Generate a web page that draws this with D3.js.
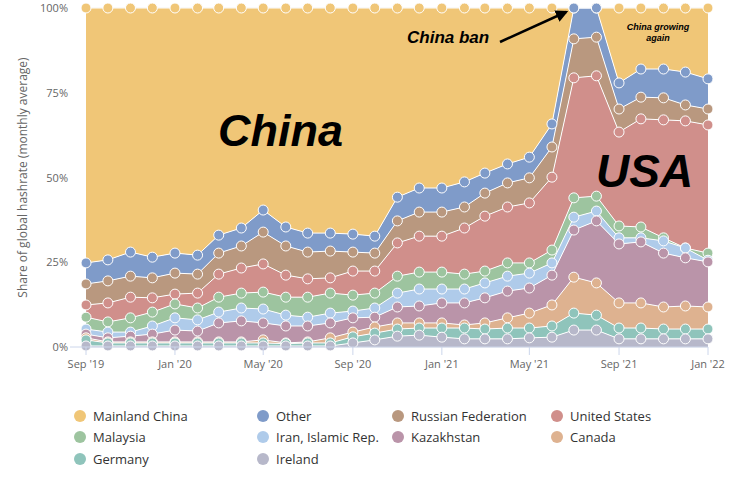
<!DOCTYPE html>
<html>
<head>
<meta charset="utf-8">
<script src="https://cdn.jsdelivr.net/npm/d3@7"></script>
<style>
  body { margin: 0; background: #fff; font-family: "Open Sans", sans-serif; }
</style>
</head>
<body>
<svg id="chart"></svg>
<script>
// months from Sep 2019 to Jan 2022
const months = d3.range(29).map(i => new Date(2019, 8 + i, 1));

// layers bottom to top; values are the cumulative top of each layer (% share)
const layers = ["Ireland", "Germany", "Canada", "Kazakhstan", "Iran, Islamic Rep.", "Malaysia",
                "United States", "Russian Federation", "Other", "Mainland China"];
const colours = ["#b7b8ca", "#8fc4bb", "#deb290", "#ba94a9", "#afcbea", "#9dc49f",
                 "#d08f8b", "#b9987f", "#7f9bc9", "#f0c677"];

const irelandTop   = [0.3,0.3,0.3,0.3,0.3,0.3,0.3,0.3,0.3,0.3,0.3,0.3,1.2,2.1,3.2,3.5,2.9,2.4,2.4,2.4,2.7,2.9,5.0,5.0,2.4,2.4,2.4,2.4,2.4];
const germanyTop   = [2.1,1.2,1.2,1.2,1.2,1.2,1.2,1.2,1.2,1.0,1.2,1.2,3.0,4.1,5.3,5.6,5.6,5.6,5.3,5.6,5.6,6.2,10.0,9.4,5.6,5.6,5.3,5.3,5.3];
const canadaTop    = [2.7,1.5,1.5,1.5,1.5,1.5,1.5,1.5,2.1,1.2,1.5,2.7,4.4,5.9,7.1,7.1,7.1,6.5,7.1,8.6,10.0,12.4,20.6,18.9,13.0,13.0,11.8,12.1,11.8];
const kazakhTop    = [3.8,2.7,3.2,3.8,5.0,4.7,7.1,7.7,7.1,6.2,6.2,7.1,8.6,8.8,11.8,12.1,13.0,13.0,14.5,16.5,17.4,21.2,34.5,37.2,30.4,31.0,27.7,26.3,25.1];
const iranTop      = [5.3,4.4,4.4,6.2,8.6,8.0,10.3,11.5,11.2,9.4,8.8,10.0,10.6,11.5,15.9,17.1,17.1,17.1,18.9,20.9,21.8,24.8,38.3,40.1,32.2,32.2,31.3,29.2,25.6];
const malaysiaTop  = [8.8,7.4,8.6,10.3,12.7,11.5,14.7,15.9,16.2,14.7,14.7,15.9,15.3,15.9,20.9,22.1,22.1,21.5,22.4,24.8,24.8,28.6,44.0,44.5,35.7,35.4,32.2,29.2,27.7];
const usTop        = [12.4,13.0,14.7,14.5,15.6,15.9,21.5,23.3,24.5,21.2,20.1,20.4,22.4,22.4,30.7,32.7,32.7,35.1,38.6,41.3,42.5,50.1,79.4,80.0,63.4,67.3,67.0,66.7,65.5];
const russiaTop    = [18.6,19.5,20.9,20.4,21.8,21.5,27.7,29.8,33.9,29.8,28.0,28.3,28.0,27.7,37.2,39.8,39.8,41.3,45.4,48.4,49.9,59.0,90.9,91.4,70.2,73.7,73.5,71.4,70.2];
const otherTop     = [24.8,25.7,28.0,26.5,27.7,27.1,33.0,35.1,40.4,35.4,33.6,33.6,33.3,32.7,44.2,46.9,46.9,48.7,51.3,54.0,56.0,65.8,100,100,77.9,82.0,82.0,81.1,79.1];
const chinaTop     = months.map(() => 100);

const tops = [irelandTop, germanyTop, canadaTop, kazakhTop, iranTop, malaysiaTop, usTop, russiaTop, otherTop, chinaTop];

const xTickMonths = [0, 4, 8, 12, 16, 20, 24, 28];
const xTickLabels = ["Sep '19", "Jan '20", "May '20", "Sep '20", "Jan '21", "May '21", "Sep '21", "Jan '22"];
const yTicks = [0, 25, 50, 75, 100];

// legend order as in the reference
const legendOrder = ["Mainland China", "Other", "Russian Federation", "United States",
                     "Malaysia", "Iran, Islamic Rep.", "Kazakhstan", "Canada",
                     "Germany", "Ireland"];

const W = 736, H = 484;
const margin = { top: 8, right: 28, bottom: 137, left: 86 };
const width = W - margin.left - margin.right;
const height = H - margin.top - margin.bottom;

const svg = d3.select("#chart").attr("width", W).attr("height", H);
const chart = svg.append("g").attr("transform", `translate(${margin.left},${margin.top})`);

const x = d3.scaleTime().domain([months[0], months[28]]).range([0, width]);
const y = d3.scaleLinear().domain([0, 100]).range([height, 0]);

// gridlines + y labels
chart.selectAll(".grid").data(yTicks).enter().append("line")
  .attr("x1", 0).attr("x2", width)
  .attr("y1", d => y(d)).attr("y2", d => y(d))
  .attr("stroke", "#e6e6e6");
chart.selectAll(".ylab").data(yTicks).enter().append("text")
  .attr("x", -18).attr("y", d => y(d) + 4)
  .attr("text-anchor", "end").attr("font-size", 11).attr("fill", "#666")
  .text(d => d + "%");

svg.append("text")
  .attr("transform", `translate(27,${margin.top + height / 2}) rotate(-90)`)
  .attr("text-anchor", "middle").attr("font-size", 12).attr("fill", "#666")
  .text("Share of global hashrate (monthly average)");

// areas
layers.forEach((name, k) => {
  const top = tops[k];
  const bottom = k === 0 ? months.map(() => 0) : tops[k - 1];
  const area = d3.area()
    .x((d, i) => x(months[i]))
    .y0((d, i) => y(bottom[i]))
    .y1((d, i) => y(top[i]));
  chart.append("path").datum(top)
    .attr("d", area).attr("fill", colours[k]).attr("stroke", "none");
});
layers.forEach((name, k) => {
  const line = d3.line().x((d, i) => x(months[i])).y(d => y(d));
  chart.append("path").datum(tops[k])
    .attr("d", line).attr("fill", "none").attr("stroke", "#fff").attr("stroke-width", 1);
});
// markers: top layer first so lower layers' points sit on top where they touch
layers.slice().reverse().forEach(name => {
  const k = layers.indexOf(name);
  chart.selectAll(null).data(tops[k]).enter().append("circle")
    .attr("cx", (d, i) => x(months[i])).attr("cy", d => y(d))
    .attr("r", 5).attr("fill", colours[k]).attr("stroke", "#fff").attr("stroke-width", 1);
});

// x axis
chart.append("line").attr("x1", -16).attr("x2", width)
  .attr("y1", height).attr("y2", height).attr("stroke", "#ccd6eb");
const xg = chart.selectAll(".xt").data(xTickMonths).enter().append("g")
  .attr("transform", d => `translate(${x(months[d])},${height})`);
xg.append("line").attr("y2", 8).attr("stroke", "#ccd6eb");
xg.append("text").attr("y", 21).attr("text-anchor", "middle")
  .attr("font-size", 11).attr("fill", "#666").text((d, i) => xTickLabels[i]);

// annotations
svg.append("text").attr("x", 218).attr("y", 146)
  .attr("font-family", "Liberation Sans, Arial, sans-serif").attr("font-weight", "bold")
  .attr("font-style", "italic").attr("font-size", 45).text("China");
svg.append("text").attr("x", 596).attr("y", 187)
  .attr("font-family", "Liberation Sans, Arial, sans-serif").attr("font-weight", "bold")
  .attr("font-style", "italic").attr("font-size", 46).text("USA");
svg.append("text").attr("x", 407).attr("y", 43)
  .attr("font-family", "Liberation Sans, Arial, sans-serif").attr("font-weight", "bold")
  .attr("font-style", "italic").attr("font-size", 17).text("China ban");
svg.append("defs").append("marker").attr("id", "arr")
  .attr("viewBox", "0 0 10 10").attr("refX", 8).attr("refY", 5)
  .attr("markerWidth", 5).attr("markerHeight", 5).attr("orient", "auto")
  .append("path").attr("d", "M0,0L10,5L0,10z").attr("fill", "#000");
svg.append("line").attr("x1", 500).attr("y1", 42).attr("x2", 566).attr("y2", 12)
  .attr("stroke", "#000").attr("stroke-width", 2.5).attr("marker-end", "url(#arr)");
const ga = svg.append("text").attr("text-anchor", "middle")
  .attr("font-family", "Liberation Sans, Arial, sans-serif").attr("font-weight", "bold")
  .attr("font-style", "italic").attr("font-size", 9);
ga.append("tspan").attr("x", 658).attr("y", 30).text("China growing");
ga.append("tspan").attr("x", 658).attr("y", 41).text("again");

// legend
const colX = [80, 263, 398, 557];
const rowY = [416, 437, 459];
legendOrder.forEach((name, j) => {
  const k = layers.indexOf(name);
  const g = svg.append("g").attr("transform", `translate(${colX[j % 4]},${rowY[Math.floor(j / 4)]})`);
  g.append("circle").attr("r", 6).attr("fill", colours[k]);
  g.append("text").attr("x", 13).attr("y", 5).attr("font-size", 13)
    .attr("fill", "#333").text(name);
});
</script>
</body>
</html>
